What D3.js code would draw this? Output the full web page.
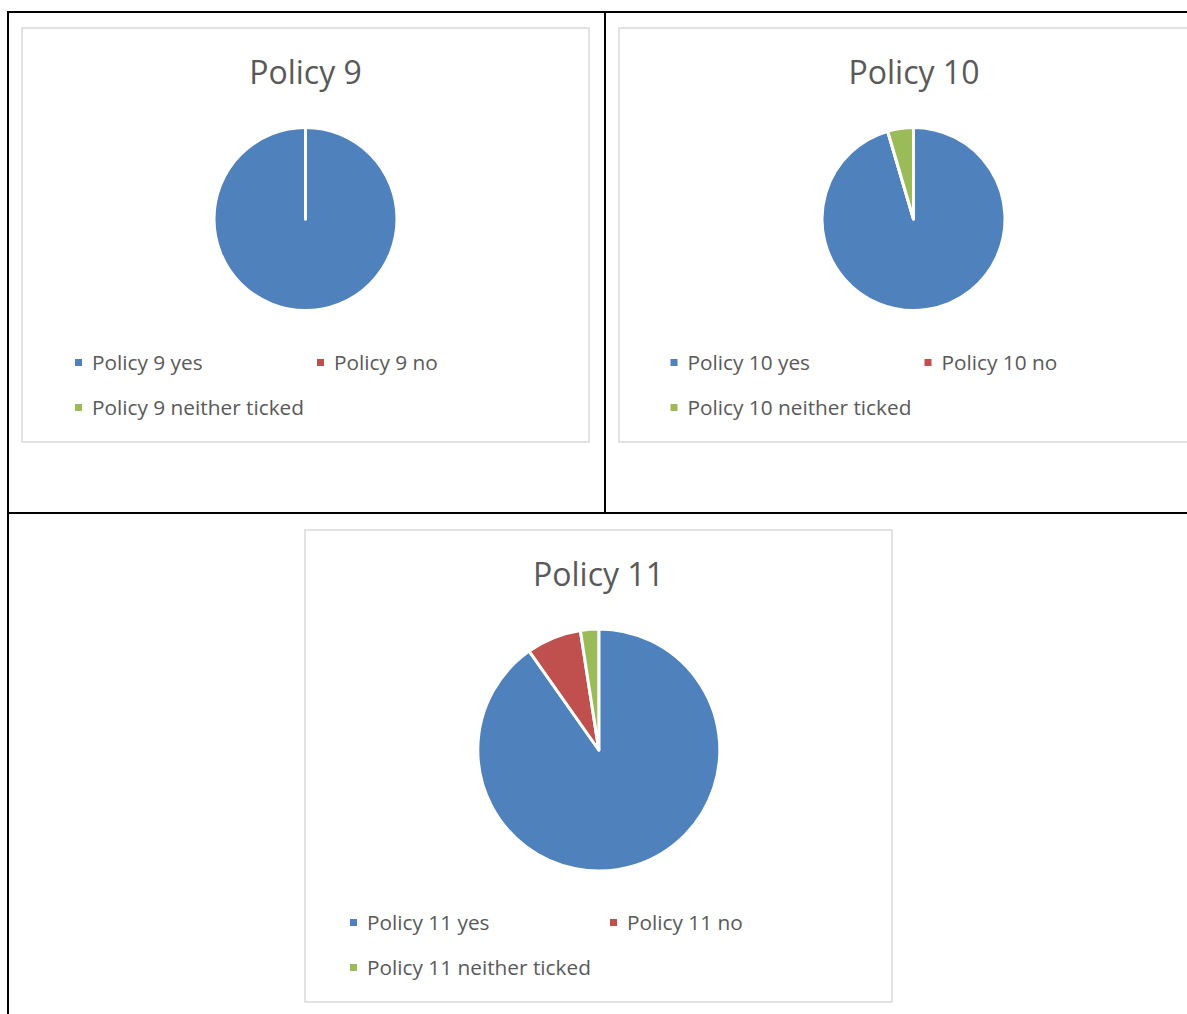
<!DOCTYPE html>
<html><head><meta charset="utf-8">
<script src="https://cdn.jsdelivr.net/npm/d3@7"></script>
<style>body{margin:0;background:#fff;overflow:hidden} svg{display:block}</style>
</head><body>
<svg id="c" width="1187" height="1014"></svg>
<script>
// ---- data ----
const categories = ["yes", "no", "neither ticked"];
const policyNames = ["Policy 9", "Policy 10", "Policy 11"];
const policy9Values = [100, 0, 0];
const policy10Values = [21, 0, 1];
const policy11Values = [37, 3, 1];
const seriesColors = ["#4F81BD", "#C0504D", "#9BBB59"];

// ---- layout ----
const layouts = [
  {box:[22,28,567,414],  cx:305.5, cy:219, r:91.5,  legX:[75,317],      legY:[362.5,407.5], titleY:84},
  {box:[619,28,590,414], cx:913.5, cy:219, r:91.5,  legX:[670.5,924.5], legY:[362.5,407.5], titleY:84},
  {box:[305,530,587,472],cx:598.8, cy:750, r:121,   legX:[350,610],     legY:[922.5,967.5], titleY:586}
];
const allValues = [policy9Values, policy10Values, policy11Values];

const svg = d3.select("#c");
const font = "'Open Sans', 'Noto Sans', sans-serif";

// table borders
const tbl = svg.append("g").attr("stroke","#000").attr("stroke-width",2);
tbl.append("line").attr("x1",7).attr("x2",1187).attr("y1",12).attr("y2",12);
tbl.append("line").attr("x1",8).attr("x2",8).attr("y1",11).attr("y2",1014);
tbl.append("line").attr("x1",605).attr("x2",605).attr("y1",12).attr("y2",513);
tbl.append("line").attr("x1",7).attr("x2",1187).attr("y1",513).attr("y2",513);

const pie = d3.pie().sort(null).value(d => d).startAngle(0).endAngle(2*Math.PI);

layouts.forEach((L, i) => {
  const g = svg.append("g");
  const [bx,by,bw,bh] = L.box;
  g.append("rect").attr("x",bx).attr("y",by).attr("width",bw).attr("height",bh)
    .attr("fill","#fff").attr("stroke","#d9d9d9").attr("stroke-width",1.5);

  g.append("text").attr("x", bx + bw/2).attr("y", L.titleY)
    .attr("text-anchor","middle").attr("font-family",font).attr("font-size",32)
    .attr("fill","#595959").text(policyNames[i]);

  const arc = d3.arc().innerRadius(0).outerRadius(L.r);
  const color = d3.scaleOrdinal().domain(categories).range(seriesColors);
  const data = pie(allValues[i]);
  g.append("g").attr("transform",`translate(${L.cx},${L.cy})`)
    .selectAll("path").data(data).join("path")
    .attr("d", arc)
    .attr("fill", (d,j) => color(categories[j]))
    .attr("stroke","#fff").attr("stroke-width",3).attr("stroke-linejoin","round");

  // legend
  categories.forEach((c, j) => {
    const lx = L.legX[j % 2], ly = L.legY[Math.floor(j / 2)];
    g.append("rect").attr("x", lx).attr("y", ly - 3.5).attr("width",7).attr("height",7)
      .attr("fill", color(c));
    g.append("text").attr("x", lx + 17).attr("y", ly + 7.5)
      .attr("font-family",font).attr("font-size",20.8).attr("fill","#595959")
      .text(policyNames[i] + " " + c);
  });
});
</script>
</body></html>
